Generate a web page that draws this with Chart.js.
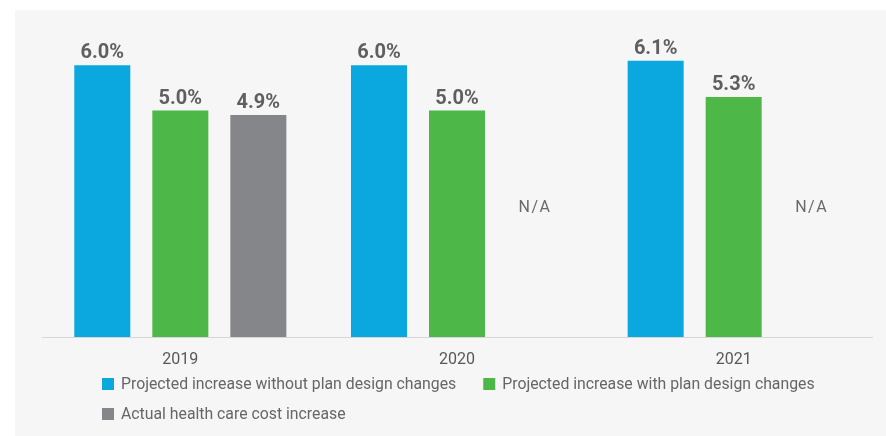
<!DOCTYPE html>
<html>
<head>
<meta charset="utf-8">
<script src="https://cdn.jsdelivr.net/npm/chart.js@4.4.1/dist/chart.umd.min.js"></script>
<style>
  html, body { margin: 0; padding: 0; background: #ffffff; }
  #wrap { width: 886px; height: 436px; }
  canvas { display: block; }
</style>
</head>
<body>
<div id="wrap"><canvas id="chart" width="886" height="436"></canvas></div>
<script>
// Plan years on the category axis
const years = ['2019', '2020', '2021'];

// Series names shown in the legend
const seriesNames = [
  'Projected increase without plan design changes',
  'Projected increase with plan design changes',
  'Actual health care cost increase'
];

// Cost increase, percent
const withoutDesignChanges = [6.0, 6.0, 6.1];
const withDesignChanges = [5.0, 5.0, 5.3];
const actualIncrease = [4.9, null, null];

// Value axis range, percent
const valueMin = 0;
const valueMax = 7;

// Text shown where no actual figure exists yet, and the level it sits at
const missingText = 'N/A';
const missingTextLevel = 2.85;

const seriesColors = ['#0aa8df', '#4db848', '#858689'];
const FONT = 'Roboto, "Open Sans", sans-serif';

// Light panel behind the chart
const panelBackground = {
  id: 'panelBackground',
  beforeDraw(chart) {
    const { ctx, width, height } = chart;
    ctx.save();
    ctx.fillStyle = '#ffffff';
    ctx.fillRect(0, 0, width, height);
    ctx.fillStyle = '#f6f6f6';
    ctx.fillRect(15, 10, width - 15, height - 10);
    ctx.restore();
  }
};

// Percent labels above each bar, N/A in empty slots
const barValueLabels = {
  id: 'barValueLabels',
  afterDatasetsDraw(chart) {
    const { ctx } = chart;
    const yScale = chart.scales.y;
    ctx.save();
    ctx.textAlign = 'center';
    chart.data.datasets.forEach((ds, di) => {
      const meta = chart.getDatasetMeta(di);
      meta.data.forEach((bar, i) => {
        const v = ds.data[i];
        if (v === null || v === undefined) {
          ctx.font = '16px ' + FONT;
          ctx.fillStyle = '#6a6a6a';
          ctx.textBaseline = 'middle';
          ctx.letterSpacing = '1.5px';
          ctx.fillText(missingText, bar.x, yScale.getPixelForValue(missingTextLevel));
          ctx.letterSpacing = '0px';
        } else {
          ctx.font = 'bold 20px ' + FONT;
          ctx.fillStyle = '#5f5f5f';
          ctx.textBaseline = 'alphabetic';
          ctx.fillText(v.toFixed(1) + '%', bar.x, bar.y - 7);
        }
      });
    });
    ctx.restore();
  }
};

// Legend rows below the axis: items flow left to right and wrap
const flowLegend = {
  id: 'flowLegend',
  afterDraw(chart) {
    const { ctx, chartArea } = chart;
    const startX = chartArea.left + 60;
    const maxRight = chartArea.right;
    const box = 12, textGap = 7, itemGap = 27, rowHeight = 30;
    let x = startX;
    let y = chartArea.bottom + 47;
    ctx.save();
    ctx.font = '15.8px ' + FONT;
    ctx.textBaseline = 'middle';
    ctx.textAlign = 'left';
    chart.data.datasets.forEach((ds) => {
      const w = box + textGap + ctx.measureText(ds.label).width;
      if (x !== startX && x + w > maxRight) {
        x = startX;
        y += rowHeight;
      }
      ctx.fillStyle = ds.backgroundColor;
      ctx.fillRect(x, y - box / 2, box, box);
      ctx.fillStyle = '#666666';
      ctx.fillText(ds.label, x + box + textGap, y + 1);
      x += w + itemGap;
    });
    ctx.restore();
  }
};

const seriesValues = [withoutDesignChanges, withDesignChanges, actualIncrease];

new Chart(document.getElementById('chart'), {
  type: 'bar',
  data: {
    labels: years,
    datasets: seriesValues.map((vals, i) => ({
      label: seriesNames[i],
      data: vals,
      backgroundColor: seriesColors[i],
      borderWidth: 0,
      categoryPercentage: 0.846,
      barPercentage: 0.718
    }))
  },
  options: {
    responsive: false,
    animation: false,
    events: [],
    layout: { padding: { left: 42, right: 14, top: 20, bottom: 53.8 } },
    scales: {
      x: {
        type: 'category',
        offset: true,
        grid: { display: false, drawTicks: false },
        border: { display: true, color: '#d6d6d6', width: 1 },
        ticks: {
          color: '#585858',
          padding: 13,
          font: { family: FONT, size: 16 }
        }
      },
      y: {
        display: false,
        min: valueMin,
        max: valueMax
      }
    },
    plugins: {
      legend: { display: false },
      tooltip: { enabled: false }
    }
  },
  plugins: [panelBackground, barValueLabels, flowLegend]
});
</script>
</body>
</html>
